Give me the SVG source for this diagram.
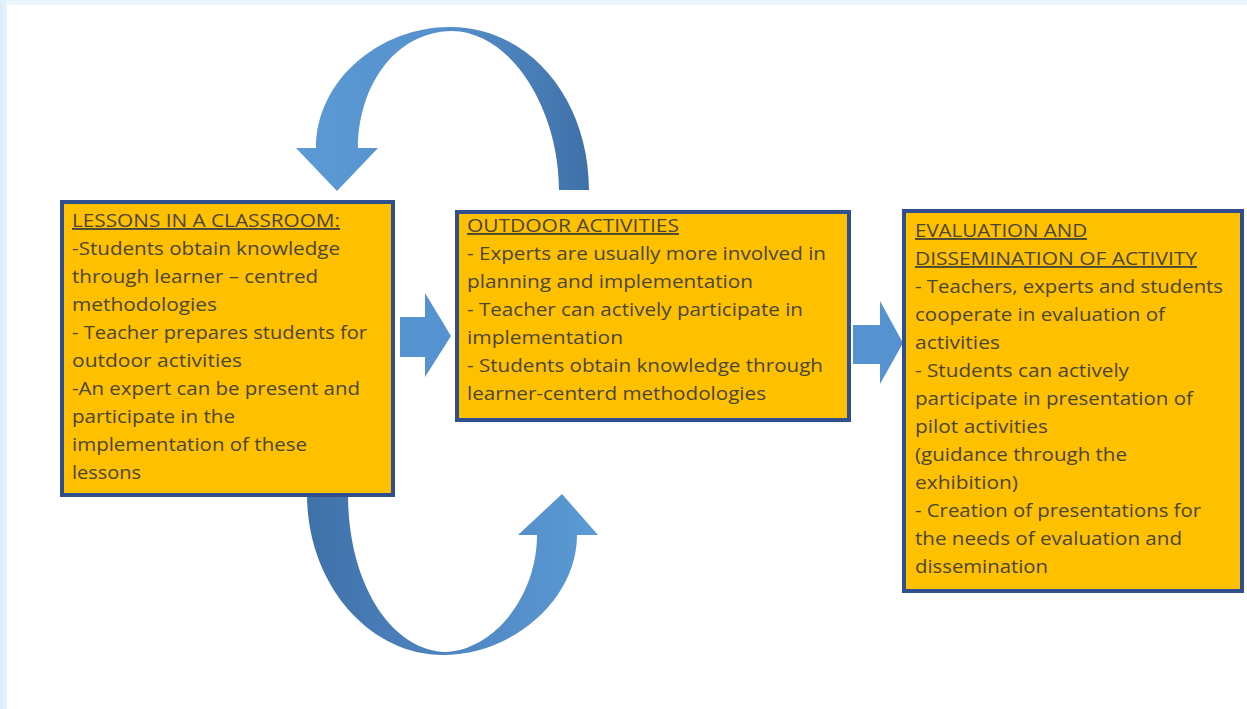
<svg xmlns="http://www.w3.org/2000/svg" width="1247" height="709" viewBox="0 0 1247 709">
<defs>
<linearGradient id="gTop" x1="296" y1="0" x2="590" y2="0" gradientUnits="userSpaceOnUse">
<stop offset="0" stop-color="#5b9bd5"/><stop offset="0.5" stop-color="#5690cc"/><stop offset="1" stop-color="#3f71a9"/>
</linearGradient>
<linearGradient id="gBot" x1="307" y1="0" x2="598" y2="0" gradientUnits="userSpaceOnUse">
<stop offset="0" stop-color="#3f71a9"/><stop offset="0.5" stop-color="#4f86c2"/><stop offset="1" stop-color="#5b9bd5"/>
</linearGradient>
<linearGradient id="gLeft" x1="0" y1="0" x2="8" y2="0" gradientUnits="userSpaceOnUse">
<stop offset="0" stop-color="#dcecf8"/><stop offset="1" stop-color="#eaf4fc"/>
</linearGradient>
<style>
.box{fill:#ffc000;stroke:#2f4f8f;stroke-width:4}
.t{font-family:"Open Sans","Liberation Sans",sans-serif;font-size:19px;fill:#4a4636}
.h{text-decoration:underline}
.arr{fill:#5592d0}
</style>
</defs>
<rect width="1247" height="709" fill="#ffffff"/>
<rect x="0" y="0" width="1247" height="5" fill="#edf5fc"/>
<rect x="0" y="0" width="7" height="709" fill="url(#gLeft)"/>

<g id="connectors">
<path id="loop-top" fill="url(#gTop)" d="M316,148 C316,80 380,27 450,27 C530,27 589,100 589,190 L559,190 C559,110 512,32 452,31 C392,32 358,90 358,148 L378,148 L337,191 L296,148 Z"/>
<path id="loop-bottom" fill="url(#gBot)" d="M307,494 C307,585 370,655 443,655 C512,655 577,600 577,535 L598,535 L562,494 L518,535 L537,535 C537,595 495,650 445,652 C392,650 348,585 348,494 Z"/>
<polygon id="arrow1" class="arr" points="400,317 425,317 425,293 451,336 425,377 425,357 400,357"/>
<polygon id="arrow2" class="arr" points="853,325 880,325 880,301 903,343 880,384 880,364 853,364"/>
</g>

<g id="node-lessons">
<rect class="box" x="62" y="202" width="331" height="293"/>
<text class="t h" x="72" y="227" textLength="268" lengthAdjust="spacingAndGlyphs">LESSONS IN A CLASSROOM:</text>
<text class="t" x="72" y="255" textLength="268" lengthAdjust="spacingAndGlyphs">-Students obtain knowledge</text>
<text class="t" x="72" y="283" textLength="246" lengthAdjust="spacingAndGlyphs">through learner – centred</text>
<text class="t" x="72" y="311" textLength="145" lengthAdjust="spacingAndGlyphs">methodologies</text>
<text class="t" x="72" y="339" textLength="295" lengthAdjust="spacingAndGlyphs">- Teacher prepares students for</text>
<text class="t" x="72" y="367" textLength="170" lengthAdjust="spacingAndGlyphs">outdoor activities</text>
<text class="t" x="72" y="395" textLength="288" lengthAdjust="spacingAndGlyphs">-An expert can be present and</text>
<text class="t" x="72" y="423" textLength="163" lengthAdjust="spacingAndGlyphs">participate in the</text>
<text class="t" x="72" y="451" textLength="235" lengthAdjust="spacingAndGlyphs">implementation of these</text>
<text class="t" x="72" y="479" textLength="69" lengthAdjust="spacingAndGlyphs">lessons</text>
</g>

<g id="node-outdoor">
<rect class="box" x="457" y="212" width="392" height="208"/>
<text class="t h" x="467" y="232" textLength="212" lengthAdjust="spacingAndGlyphs">OUTDOOR ACTIVITIES</text>
<text class="t" x="467" y="260" textLength="359" lengthAdjust="spacingAndGlyphs">- Experts are usually more involved in</text>
<text class="t" x="467" y="288" textLength="286" lengthAdjust="spacingAndGlyphs">planning and implementation</text>
<text class="t" x="467" y="316" textLength="336" lengthAdjust="spacingAndGlyphs">- Teacher can actively participate in</text>
<text class="t" x="467" y="344" textLength="156" lengthAdjust="spacingAndGlyphs">implementation</text>
<text class="t" x="467" y="372" textLength="356" lengthAdjust="spacingAndGlyphs">- Students obtain knowledge through</text>
<text class="t" x="467" y="400" textLength="299" lengthAdjust="spacingAndGlyphs">learner-centerd methodologies</text>
</g>

<g id="node-evaluation">
<rect class="box" x="904" y="211" width="338" height="380"/>
<text class="t h" x="915" y="237" textLength="172" lengthAdjust="spacingAndGlyphs">EVALUATION AND</text>
<text class="t h" x="915" y="265" textLength="282" lengthAdjust="spacingAndGlyphs">DISSEMINATION OF ACTIVITY</text>
<text class="t" x="915" y="293" textLength="308" lengthAdjust="spacingAndGlyphs">- Teachers, experts and students</text>
<text class="t" x="915" y="321" textLength="250" lengthAdjust="spacingAndGlyphs">cooperate in evaluation of</text>
<text class="t" x="915" y="349" textLength="85" lengthAdjust="spacingAndGlyphs">activities</text>
<text class="t" x="915" y="377" textLength="214" lengthAdjust="spacingAndGlyphs">- Students can actively</text>
<text class="t" x="915" y="405" textLength="278" lengthAdjust="spacingAndGlyphs">participate in presentation of</text>
<text class="t" x="915" y="433" textLength="133" lengthAdjust="spacingAndGlyphs">pilot activities</text>
<text class="t" x="915" y="461" textLength="212" lengthAdjust="spacingAndGlyphs">(guidance through the</text>
<text class="t" x="915" y="489" textLength="103" lengthAdjust="spacingAndGlyphs">exhibition)</text>
<text class="t" x="915" y="517" textLength="286" lengthAdjust="spacingAndGlyphs">- Creation of presentations for</text>
<text class="t" x="915" y="545" textLength="267" lengthAdjust="spacingAndGlyphs">the needs of evaluation and</text>
<text class="t" x="915" y="573" textLength="133" lengthAdjust="spacingAndGlyphs">dissemination</text>
</g>
</svg>
